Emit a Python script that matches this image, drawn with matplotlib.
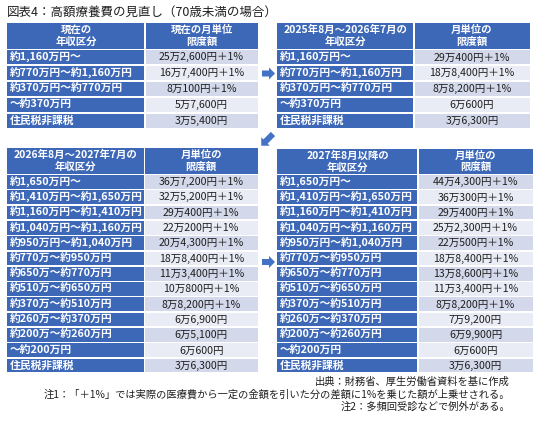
import matplotlib
matplotlib.use("Agg")
import matplotlib.pyplot as plt
from matplotlib.patches import Rectangle, FancyArrow

plt.rcParams['font.family'] = ['Noto Sans CJK JP', 'DejaVu Sans']

title = "図表4：高額療養費の見直し（70歳未満の場合）"

tl_header = ["現在の\n年収区分", "現在の月単位\n限度額"]
tl_income = ["約1,160万円～", "約770万円～約1,160万円", "約370万円～約770万円",
             "～約370万円", "住民税非課税"]
tl_limit = ["25万2,600円＋1%", "16万7,400円＋1%", "8万100円＋1%", "5万7,600円", "3万5,400円"]

tr_header = ["2025年8月～2026年7月の\n年収区分", "月単位の\n限度額"]
tr_income = tl_income
tr_limit = ["29万400円＋1%", "18万8,400円＋1%", "8万8,200円＋1%", "6万600円", "3万6,300円"]

bl_header = ["2026年8月～2027年7月の\n年収区分", "月単位の\n限度額"]
bl_income = ["約1,650万円～", "約1,410万円～約1,650万円", "約1,160万円～約1,410万円",
             "約1,040万円～約1,160万円", "約950万円～約1,040万円", "約770万～約950万円",
             "約650万～約770万円", "約510万～約650万円", "約370万～約510万円",
             "約260万～約370万円", "約200万～約260万円", "～約200万円", "住民税非課税"]
bl_limit = ["36万7,200円＋1%", "32万5,200円＋1%", "29万400円＋1%", "22万200円＋1%",
            "20万4,300円＋1%", "18万8,400円＋1%", "11万3,400円＋1%", "10万800円＋1%",
            "8万8,200円＋1%", "6万6,900円", "6万5,100円", "6万600円", "3万6,300円"]

br_header = ["2027年8月以降の\n年収区分", "月単位の\n限度額"]
br_income = bl_income
br_limit = ["44万4,300円＋1%", "36万300円＋1%", "29万400円＋1%", "25万2,300円＋1%",
            "22万500円＋1%", "18万8,400円＋1%", "13万8,600円＋1%", "11万3,400円＋1%",
            "8万8,200円＋1%", "7万9,200円", "6万9,900円", "6万600円", "3万6,300円"]

notes = ["出典：財務省、厚生労働省資料を基に作成",
         "注1：「＋1%」では実際の医療費から一定の金額を引いた分の差額に1%を乗じた額が上乗せされる。",
         "注2：多頻回受診などで例外がある。"]

BLUE = "#3D68B8"
LIGHT1 = "#D3D9EA"
LIGHT2 = "#E9ECF5"
ARROW = "#4472C4"
TXT = "#1E1E1E"

fig = plt.figure(figsize=(5.4, 4.22), dpi=100)
ax = fig.add_axes([0, 0, 1, 1])
ax.set_xlim(0, 540)
ax.set_ylim(422, 0)
ax.axis("off")

GAP = 1.6
FS = 7.6
FS_LEFT = 7.75


def draw_table(x0, xm, x1, hy0, hy1, ry0, ry1, header, income, limit):
    ax.add_patch(Rectangle((x0, hy0), xm - x0 - GAP / 2, hy1 - hy0, color=BLUE, lw=0))
    ax.add_patch(Rectangle((xm + GAP / 2, hy0), x1 - xm - GAP / 2, hy1 - hy0, color=BLUE, lw=0))
    ax.text((x0 + xm) / 2, (hy0 + hy1) / 2, header[0], ha="center", va="center",
            color="white", fontsize=7.5, fontweight="bold", linespacing=1.15)
    ax.text((xm + x1) / 2, (hy0 + hy1) / 2, header[1], ha="center", va="center",
            color="white", fontsize=7.5, fontweight="bold", linespacing=1.15)
    n = len(income)
    pitch = (ry1 - ry0) / n
    for i, (inc, lim) in enumerate(zip(income, limit)):
        y = ry0 + i * pitch
        h = pitch - GAP
        ax.add_patch(Rectangle((x0, y), xm - x0 - GAP / 2, h, color=BLUE, lw=0))
        ax.add_patch(Rectangle((xm + GAP / 2, y), x1 - xm - GAP / 2, h,
                               color=LIGHT1 if i % 2 == 0 else LIGHT2, lw=0))
        ax.text(x0 + 2.5, y + h / 2 + 0.3, inc, ha="left", va="center", color="white",
                fontsize=FS_LEFT, fontweight="bold")
        ax.text((xm + x1) / 2, y + h / 2 + 0.3, lim, ha="center", va="center",
                color=TXT, fontsize=FS)


draw_table(7, 145, 258, 23, 48.5, 50, 129.5, tl_header, tl_income, tl_limit)
draw_table(277, 414, 530, 23, 48.5, 50, 129.5, tr_header, tr_income, tr_limit)
draw_table(7, 144.5, 258, 148, 173.5, 175, 374, bl_header, bl_income, bl_limit)
draw_table(277, 418, 533, 149, 174, 175, 374, br_header, br_income, br_limit)

# arrows
ax.add_patch(FancyArrow(262, 73.5, 7, 0, width=6, head_width=12, head_length=6,
                        length_includes_head=False, color=ARROW, lw=0))
ax.add_patch(FancyArrow(273, 134, -7.5, 7.5, width=6, head_width=12, head_length=6,
                        length_includes_head=False, color=ARROW, lw=0))
ax.add_patch(FancyArrow(262, 262, 7, 0, width=6, head_width=12, head_length=6,
                        length_includes_head=False, color=ARROW, lw=0))

ax.text(7, 12, title, ha="left", va="center", fontsize=9.0, color=TXT)

for y, s in zip([382, 395, 407], notes):
    ax.text(510, y, s, ha="right", va="center", fontsize=7.4, color=TXT)

fig.savefig("out.png", dpi=100)
